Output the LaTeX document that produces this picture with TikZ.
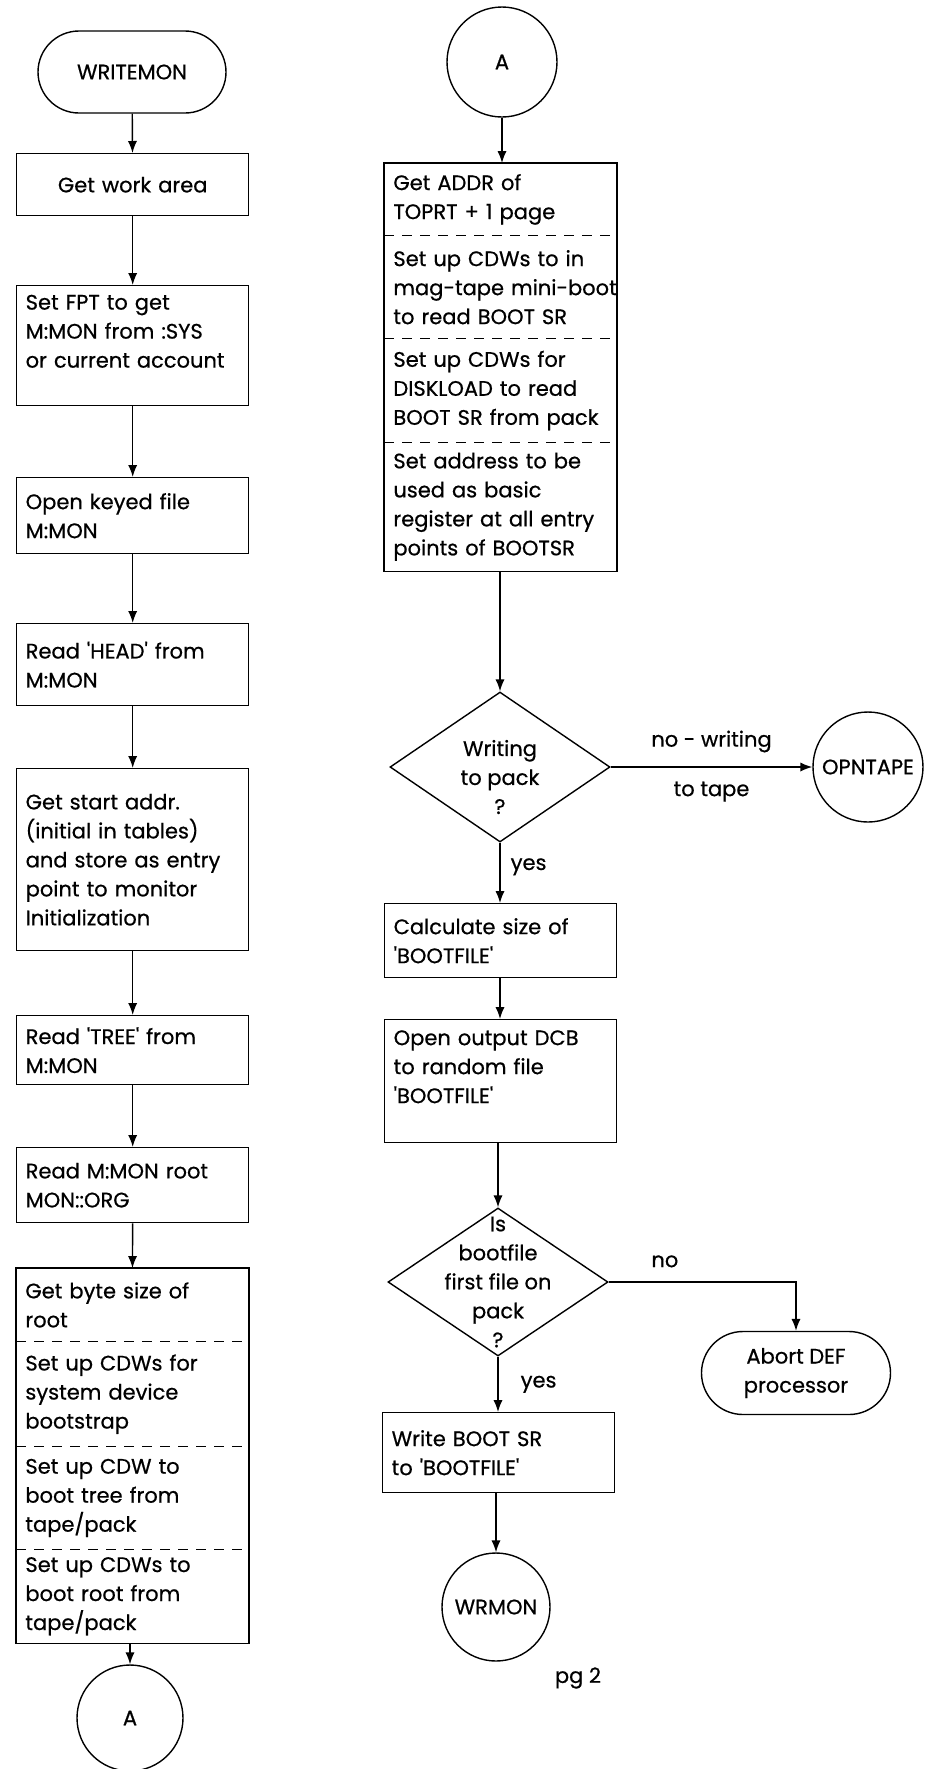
\documentclass[tikz,border=0pt]{standalone}
\usepackage{fontspec}
\setmainfont{Poppins}[FakeBold=0.6]
\usetikzlibrary{positioning,arrows.meta,shapes.geometric,shapes.misc}
\tikzset{
  >={Latex[length=6pt,width=4.6pt]},
  txt/.style={font=\fontsize{10.5}{14.5}\selectfont},
  flow/.style={->,line width=0.7pt},
  procbox/.style={txt,draw,line width=0.7pt,anchor=north west,
    minimum width=116pt,text width=107pt,inner xsep=4.5pt,align=left},
  procpart/.style={txt,anchor=north west,
    minimum width=116pt,text width=107pt,inner xsep=4.5pt,align=left},
  divider/.style={line width=0.6pt,dash pattern=on 5pt off 4pt},
  term/.style={txt,draw,rounded rectangle,line width=0.7pt,align=center,
    minimum width=98pt,minimum height=41pt,inner sep=2pt},
  conn/.style={txt,draw,circle,line width=0.7pt,inner sep=0pt},
  decision/.style={draw,diamond,line width=0.7pt,inner sep=0pt,
    minimum width=110pt,minimum height=75pt},
  dtext/.style={txt,align=center,inner sep=0pt},
  flowlbl/.style={txt,inner sep=2pt},
}
\begin{document}
\begin{tikzpicture}[x=0.5pt,y=-0.5pt]
\useasboundingbox (0,0) rectangle (930,1769);

% left column
\node[term] (writemon) at (132,72) {WRITEMON};
\node[procbox,align=center,minimum height=31pt] (workarea) at (16,153) {Get work area};
\node[procbox,minimum height=60pt] (setfpt) at (16,285)
  {Set FPT to get\\M:MON from :SYS\\or current account\\\mbox{}};
\node[procbox,minimum height=38pt] (openkey) at (16,477) {Open keyed file\\M:MON};
\node[procbox,minimum height=41pt] (readhead) at (16,623)
  {Read \textquotesingle HEAD\textquotesingle\ from\\M:MON};
\node[procbox,minimum height=91pt] (startaddr) at (16,768)
  {Get start addr.\\(initial in tables)\\and store as entry\\point to monitor\\Initialization};
\node[procbox,minimum height=34.5pt] (readtree) at (16,1015)
  {Read \textquotesingle TREE\textquotesingle\ from\\M:MON};
\node[procbox,minimum height=37.5pt] (readroot) at (16,1147) {Read M:MON root\\MON::ORG};
\node[procpart,minimum height=36.5pt] (bytesize) at (16,1268) {Get byte size of\\root};
\node[procpart,minimum height=52pt] (cdwsys) at (bytesize.south west)
  {Set up CDWs for\\system device\\bootstrap};
\node[procpart,minimum height=51pt] (cdwtree) at (cdwsys.south west)
  {Set up CDW to\\boot tree from\\tape/pack};
\node[procpart,minimum height=46.5pt] (cdwroot) at (cdwtree.south west)
  {Set up CDWs to\\boot root from\\tape/pack};
\draw[line width=0.7pt] (bytesize.north west) rectangle (cdwroot.south east);
\foreach \s in {bytesize,cdwsys,cdwtree}
  \draw[divider] (\s.south west) -- (\s.south east);
\node[conn,minimum size=53pt] (offA) at (130,1718) {A};

\draw[flow] (writemon) -- (workarea);
\draw[flow] (workarea) -- (setfpt);
\draw[flow] (setfpt) -- (openkey);
\draw[flow] (openkey) -- (readhead);
\draw[flow] (readhead) -- (startaddr);
\draw[flow] (startaddr) -- (readtree);
\draw[flow] (readtree) -- (readroot);
\draw[flow] (readroot) -- (bytesize);
\draw[flow] (cdwroot.south -| offA) -- (offA);

% right column
\node[conn,minimum size=55pt] (onA) at (502,62) {A};
\node[procpart,minimum height=36pt] (getaddr) at (384,163) {Get ADDR of\\TOPRT + 1 page};
\node[procpart,minimum height=51pt] (cdwtape) at (getaddr.south west)
  {Set up CDWs to in\\\mbox{mag-tape mini-boot}\\to read BOOT SR};
\node[procpart,minimum height=51.5pt] (cdwdisk) at (cdwtape.south west)
  {Set up CDWs for\\DISKLOAD to read\\\mbox{BOOT SR from pack}};
\node[procpart,minimum height=64pt] (setaddr) at (cdwdisk.south west)
  {Set address to be\\used as basic\\\mbox{register at all entry}\\points of BOOTSR};
\draw[line width=0.7pt] (getaddr.north west) rectangle (setaddr.south east);
\foreach \s in {getaddr,cdwtape,cdwdisk}
  \draw[divider] (\s.south west) -- (\s.south east);

\node[decision,label={[dtext,yshift=-5pt]center:Writing\\to pack\\?}] (pack) at (500,767) {};
\node[conn,minimum size=55pt] (opntape) at (868,767) {\makebox[0pt]{OPNTAPE}};
\node[procbox,minimum height=37pt] (calcsize) at (384,903)
  {Calculate size of\\\textquotesingle BOOTFILE\textquotesingle};
\node[procbox,minimum height=61.5pt] (opendcb) at (384,1019)
  {Open output DCB\\to random file\\\textquotesingle BOOTFILE\textquotesingle\\\mbox{}};
\node[decision,minimum height=74pt,
  label={[dtext]center:Is\\bootfile\\first file on\\pack\\?}] (firstfile) at (498,1282) {};
\node[term,minimum width=98.5pt,minimum height=41.5pt] (abort) at (796,1373)
  {Abort DEF\\processor};
\node[procbox,minimum height=40pt] (writeboot) at (382,1412)
  {Write BOOT SR\\to \textquotesingle BOOTFILE\textquotesingle};
\node[conn,minimum size=54pt] (wrmon) at (496,1607) {\makebox[0pt]{WRMON}};
\node[txt] (pgno) at (578,1678) {pg 2};

\draw[flow] (onA) -- (onA |- getaddr.north);
\draw[flow] (setaddr.south -| pack) -- (pack);
\draw[flow] (pack) -- node[flowlbl,above=5pt] (nowrite) {no - writing}
  node[flowlbl,below=5pt] (totape) {to tape} (opntape);
\draw[flow] (pack) -- node[flowlbl,right=3pt,pos=0.4] (yespack) {yes} (pack |- calcsize.north);
\draw[flow] (calcsize.south -| pack) -- (pack |- opendcb.north);
\draw[flow] (opendcb.south -| firstfile) -- (firstfile);
\draw[flow] (firstfile.east) -| node[flowlbl,pos=0.15,above=5pt] (nofirst) {no} (abort.north);
\draw[flow] (firstfile) -- node[flowlbl,right=9pt] (yesfirst) {yes} (firstfile |- writeboot.north);
\draw[flow] (writeboot.south -| wrmon) -- (wrmon);
\end{tikzpicture}
\end{document}
